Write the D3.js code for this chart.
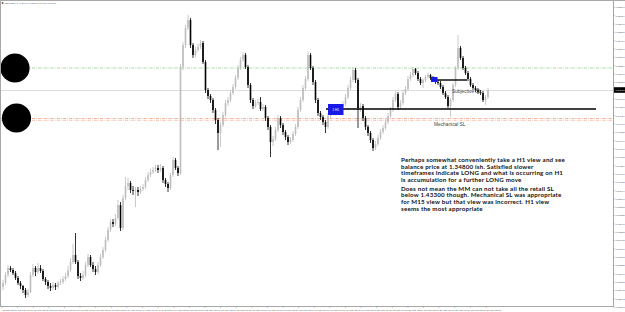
<!DOCTYPE html>
<html>
<head>
<meta charset="utf-8">
<script src="https://cdn.jsdelivr.net/npm/d3@7"></script>
<style>
body{margin:0;background:#fff}
svg{display:block}
</style>
</head>
<body>
<script>
var W = 625, H = 312;

var title = "GBPUSD,H1  1.34990 1.35010 1.34960 1.34980";
var firstOpen = 1.3301;
// H1 closes
var closes = [
1.3305,1.3313,1.3320,1.3318,1.3315,1.3310,1.3305,1.3302,1.3298,1.3293,1.3296,1.3313,1.3320,1.3316,1.3320,
1.3317,1.3309,1.3306,1.3302,1.3300,1.3303,1.3301,1.3305,1.3306,1.3309,1.3312,1.3318,1.3326,1.3333,1.3326,
1.3312,1.3310,1.3313,1.3323,1.3331,1.3323,1.3319,1.3316,1.3323,1.3331,1.3338,1.3348,1.3358,1.3366,1.3364,
1.3370,1.3383,1.3360,1.3390,1.3402,1.3405,1.3398,1.3397,1.3398,1.3396,1.3399,1.3401,1.3408,1.3413,1.3416,
1.3418,1.3420,1.3418,1.3420,1.3408,1.3404,1.3400,1.3413,1.3428,1.3420,1.3415,1.3521,1.3543,1.3560,1.3568,
1.3543,1.3533,1.3538,1.3541,1.3545,1.3526,1.3498,1.3492,1.3488,1.3478,1.3468,1.3455,1.3463,1.3473,1.3485,
1.3488,1.3495,1.3501,1.3510,1.3520,1.3528,1.3533,1.3521,1.3503,1.3488,1.3482,1.3485,1.3486,1.3479,1.3481,
1.3470,1.3461,1.3446,1.3449,1.3458,1.3470,1.3463,1.3456,1.3451,1.3446,1.3448,1.3454,1.3461,1.3478,1.3488,
1.3500,1.3509,1.3533,1.3520,1.3506,1.3488,1.3475,1.3471,1.3466,1.3461,1.3472,1.3476,1.3478,1.3479,1.3480,
1.3481,1.3484,1.3491,1.3500,1.3508,1.3518,1.3508,1.3480,1.3482,1.3470,1.3461,1.3455,1.3448,1.3440,1.3444,
1.3450,1.3456,1.3460,1.3466,1.3472,1.3478,1.3488,1.3494,1.3481,1.3485,1.3495,1.3499,1.3509,1.3513,1.3519,
1.3515,1.3509,1.3505,1.3508,1.3511,1.3513,1.3510,1.3508,1.3506,1.3505,1.3501,1.3495,1.3491,1.3482,1.3488,
1.3503,1.3520,1.3540,1.3530,1.3520,1.3515,1.3509,1.3503,1.3500,1.3498,1.3496,1.3495,1.3488,1.3491,1.3498];
var highs = [
1.3308,1.3316,1.3323,1.3322,1.3320,1.3317,1.3312,1.3307,1.3303,1.3300,1.3299,1.3316,1.3324,1.3322,1.3325,
1.3323,1.3319,1.3311,1.3308,1.3305,1.3306,1.3305,1.3307,1.3309,1.3312,1.3315,1.3322,1.3330,1.3344,1.3355,
1.3328,1.3315,1.3317,1.3326,1.3334,1.3333,1.3326,1.3322,1.3326,1.3334,1.3341,1.3351,1.3361,1.3369,1.3369,
1.3374,1.3388,1.3386,1.3393,1.3411,1.3410,1.3407,1.3402,1.3401,1.3401,1.3402,1.3404,1.3411,1.3416,1.3419,
1.3421,1.3423,1.3423,1.3424,1.3422,1.3410,1.3406,1.3415,1.3431,1.3430,1.3422,1.3524,1.3546,1.3563,1.3573,
1.3570,1.3545,1.3541,1.3544,1.3548,1.3547,1.3528,1.3500,1.3494,1.3490,1.3480,1.3470,1.3466,1.3476,1.3488,
1.3491,1.3498,1.3504,1.3513,1.3523,1.3531,1.3536,1.3535,1.3523,1.3505,1.3490,1.3488,1.3489,1.3491,1.3484,
1.3483,1.3472,1.3463,1.3452,1.3461,1.3473,1.3472,1.3465,1.3458,1.3453,1.3451,1.3457,1.3464,1.3481,1.3491,
1.3503,1.3512,1.3536,1.3535,1.3522,1.3508,1.3490,1.3477,1.3473,1.3468,1.3475,1.3478,1.3481,1.3482,1.3483,
1.3484,1.3487,1.3494,1.3503,1.3511,1.3521,1.3520,1.3510,1.3485,1.3484,1.3472,1.3463,1.3457,1.3450,1.3447,
1.3453,1.3459,1.3463,1.3469,1.3475,1.3481,1.3491,1.3497,1.3496,1.3488,1.3498,1.3502,1.3512,1.3516,1.3521,
1.3520,1.3517,1.3511,1.3510,1.3513,1.3515,1.3514,1.3512,1.3510,1.3508,1.3507,1.3503,1.3497,1.3493,1.3490,
1.3505,1.3522,1.3553,1.3542,1.3532,1.3522,1.3517,1.3511,1.3505,1.3502,1.3500,1.3498,1.3497,1.3493,1.3500];
var lows = [
1.3298,1.3303,1.3311,1.3316,1.3313,1.3308,1.3303,1.3299,1.3295,1.3290,1.3291,1.3295,1.3311,1.3312,1.3314,
1.3315,1.3307,1.3303,1.3299,1.3297,1.3298,1.3298,1.3299,1.3303,1.3304,1.3307,1.3310,1.3316,1.3324,1.3324,
1.3309,1.3307,1.3308,1.3311,1.3321,1.3321,1.3316,1.3313,1.3314,1.3321,1.3329,1.3336,1.3346,1.3356,1.3361,
1.3362,1.3368,1.3357,1.3358,1.3388,1.3398,1.3395,1.3393,1.3381,1.3392,1.3394,1.3397,1.3399,1.3406,1.3411,
1.3414,1.3416,1.3415,1.3416,1.3405,1.3401,1.3396,1.3398,1.3411,1.3418,1.3412,1.3413,1.3518,1.3540,1.3558,
1.3540,1.3530,1.3531,1.3536,1.3539,1.3524,1.3495,1.3489,1.3485,1.3475,1.3464,1.3438,1.3441,1.3461,1.3471,
1.3482,1.3486,1.3493,1.3499,1.3508,1.3518,1.3526,1.3519,1.3500,1.3485,1.3479,1.3480,1.3483,1.3477,1.3477,
1.3467,1.3458,1.3431,1.3442,1.3447,1.3456,1.3460,1.3453,1.3448,1.3443,1.3444,1.3446,1.3452,1.3459,1.3476,
1.3486,1.3498,1.3507,1.3518,1.3503,1.3485,1.3472,1.3468,1.3463,1.3455,1.3459,1.3470,1.3474,1.3476,1.3477,
1.3478,1.3479,1.3482,1.3489,1.3498,1.3506,1.3505,1.3460,1.3476,1.3467,1.3458,1.3452,1.3445,1.3437,1.3438,
1.3442,1.3448,1.3454,1.3458,1.3464,1.3470,1.3476,1.3486,1.3478,1.3479,1.3483,1.3493,1.3497,1.3507,1.3511,
1.3513,1.3507,1.3503,1.3500,1.3506,1.3509,1.3508,1.3506,1.3504,1.3503,1.3499,1.3493,1.3489,1.3480,1.3471,
1.3486,1.3501,1.3518,1.3528,1.3518,1.3513,1.3507,1.3501,1.3498,1.3496,1.3494,1.3493,1.3486,1.3483,1.3489];

var priceTicks = [1.35807,1.35724,1.35640,1.35557,1.35474,1.35391,1.35307,1.35224,1.35141,1.35057,
  1.34891,1.34807,1.34724,1.34641,1.34558,1.34474,1.34391,1.34308,1.34224,1.34141,1.34058,
  1.33974,1.33891,1.33808,1.33725,1.33641,1.33558,1.33475,1.33391,1.33308,1.33225,1.33141,
  1.33058,1.32975,1.32892,1.32808];
var dateLabels = ["12 Mar 2018","12 Mar 06:00","12 Mar 12:00","12 Mar 18:00",
  "13 Mar 00:00","13 Mar 06:00","13 Mar 12:00","13 Mar 18:00",
  "14 Mar 00:00","14 Mar 06:00","14 Mar 12:00","14 Mar 18:00",
  "15 Mar 00:00","15 Mar 06:00","15 Mar 12:00","15 Mar 18:00",
  "16 Mar 00:00","16 Mar 06:00","16 Mar 12:00","16 Mar 18:00",
  "19 Mar 00:00","19 Mar 06:00","19 Mar 12:00","19 Mar 18:00",
  "20 Mar 00:00","20 Mar 06:00","20 Mar 12:00","20 Mar 18:00",
  "21 Mar 00:00","21 Mar 06:00","21 Mar 12:00","21 Mar 18:00"];

// chart objects (bar index / price)
var greenLevel = 1.3520;
var orangeLevels = [1.34695, 1.34677];
var balanceLine = {price: 1.3479, from: 129.2, to: 237.2};
var blueBox = {from: 130, to: 136.2, top: 1.3484, bottom: 1.3473};
var subjLine = {price: 1.3508, from: 172, to: 185.6};
var smallBox = {from: 171.2, to: 173.8, top: 1.3511, bottom: 1.3506};
var circleMarks = [{i: 4.8, price: 1.3520}, {i: 5.4, price: 1.3470}];
var labels = [{text: "Subjective SL", i: 179.6, price: 1.34955},
              {text: "Mechanical SL", i: 172.4, price: 1.3462}];
var note1 = ["Perhaps somewhat conveniently take a H1 view and see",
  "balance price at 1.34800 ish. Satisfied slower",
  "timeframes indicate LONG and what is occurring on H1",
  "is accumulation for a further LONG move"];
var note2 = ["Does not mean the MM can not take all the retail SL",
  "below 1.43300 though. Mechanical SL was appropriate",
  "for M15 view but that view was incorrect. H1 view",
  "seems the most appropriate"];

var n = closes.length;
var candles = closes.map(function(c, i){
  return {i: i, o: i == 0 ? firstOpen : closes[i-1], c: c, h: highs[i], l: lows[i]};
});
var bid = closes[n-1];

var plotR = 613, plotB = 306;
var x = d3.scaleLinear().domain([0, n-1]).range([3, 488]);
var y = d3.scaleLinear().domain([1.3282, 1.3588]).range([plotB, 0]);

var svg = d3.select("body").append("svg")
  .attr("width", W).attr("height", H);
svg.append("rect").attr("width", W).attr("height", H).attr("fill", "#fff");

// bid line
svg.append("line")
  .attr("x1", 1).attr("x2", plotR)
  .attr("y1", Math.round(y(bid)) + 0.5).attr("y2", Math.round(y(bid)) + 0.5)
  .attr("stroke", "#dcdcdc").attr("stroke-width", 1);

// horizontal levels
svg.append("line")
  .attr("x1", 1).attr("x2", plotR)
  .attr("y1", y(greenLevel)).attr("y2", y(greenLevel))
  .attr("stroke", "#9fd59f").attr("stroke-width", 0.9)
  .attr("stroke-dasharray", "3,1.2,0.8,1.2");
svg.selectAll(".orange").data(orangeLevels).enter().append("line")
  .attr("class", "orange")
  .attr("x1", 1).attr("x2", plotR)
  .attr("y1", function(d){ return y(d); }).attr("y2", function(d){ return y(d); })
  .attr("stroke", function(d, k){ return k == 0 ? "#f4a98e" : "#f7b7a6"; })
  .attr("stroke-width", 0.9)
  .attr("stroke-dasharray", "3,1.2,0.8,1.2");

// candles
var cg = svg.append("g");
var colr = function(d){ return d.c >= d.o ? "#bdbdbd" : "#000"; };
cg.selectAll(".wick").data(candles).enter().append("line")
  .attr("class", "wick")
  .attr("x1", function(d){ return x(d.i); }).attr("x2", function(d){ return x(d.i); })
  .attr("y1", function(d){ return y(d.h); }).attr("y2", function(d){ return y(d.l); })
  .attr("stroke", colr).attr("stroke-width", 0.8);
cg.selectAll(".body").data(candles).enter().append("rect")
  .attr("class", "body")
  .attr("x", function(d){ return x(d.i) - 0.8; })
  .attr("width", 1.6)
  .attr("y", function(d){ return y(Math.max(d.o, d.c)); })
  .attr("height", function(d){ return Math.max(0.8, Math.abs(y(d.o) - y(d.c))); })
  .attr("fill", colr);

// balance line and boxes
svg.append("line")
  .attr("x1", x(balanceLine.from)).attr("x2", x(balanceLine.to))
  .attr("y1", y(balanceLine.price)).attr("y2", y(balanceLine.price))
  .attr("stroke", "#000").attr("stroke-width", 1.6);
svg.append("rect")
  .attr("x", x(blueBox.from)).attr("y", y(blueBox.top))
  .attr("width", x(blueBox.to) - x(blueBox.from))
  .attr("height", y(blueBox.bottom) - y(blueBox.top))
  .attr("fill", "#1a1ae6");
svg.append("text")
  .attr("x", (x(blueBox.from) + x(blueBox.to)) / 2)
  .attr("y", y(blueBox.bottom) - 3.6)
  .attr("text-anchor", "middle")
  .attr("font-family", "Liberation Sans").attr("font-size", 3.2)
  .attr("fill", "#fff").text("1 H1");
svg.append("line")
  .attr("x1", x(subjLine.from)).attr("x2", x(subjLine.to))
  .attr("y1", y(subjLine.price)).attr("y2", y(subjLine.price))
  .attr("stroke", "#111").attr("stroke-width", 1.3);
svg.append("rect")
  .attr("x", x(smallBox.from)).attr("y", y(smallBox.top))
  .attr("width", x(smallBox.to) - x(smallBox.from))
  .attr("height", y(smallBox.bottom) - y(smallBox.top))
  .attr("fill", "#1a1ae6");

svg.selectAll(".lbl").data(labels).enter().append("text")
  .attr("class", "lbl")
  .attr("x", function(d){ return x(d.i); })
  .attr("y", function(d){ return y(d.price); })
  .attr("font-family", "Liberation Sans").attr("font-size", 4.8)
  .attr("fill", "#444").text(function(d){ return d.text; });

// circles
svg.selectAll(".dot").data(circleMarks).enter().append("circle")
  .attr("class", "dot")
  .attr("cx", function(d){ return x(d.i); })
  .attr("cy", function(d){ return y(d.price); })
  .attr("r", 14.6).attr("fill", "#000");

// note text
var tg = svg.append("g")
  .attr("font-family", "Lato").attr("font-weight", 700)
  .attr("font-size", 6.2).attr("letter-spacing", 0.2).attr("fill", "#111");
note1.forEach(function(t, k){
  tg.append("text").attr("x", 401).attr("y", 162 + k * 6.7).text(t);
});
note2.forEach(function(t, k){
  tg.append("text").attr("x", 401).attr("y", 190.7 + k * 6.7).text(t);
});

// frame
svg.append("line").attr("x1", 0).attr("x2", W).attr("y1", 0.5).attr("y2", 0.5)
  .attr("stroke", "#a8a8a8");
svg.append("line").attr("x1", 0.5).attr("x2", 0.5).attr("y1", 0).attr("y2", plotB)
  .attr("stroke", "#a8a8a8");
svg.append("line").attr("x1", 0).attr("x2", plotR + 0.5).attr("y1", plotB + 0.5).attr("y2", plotB + 0.5)
  .attr("stroke", "#a8a8a8");
svg.append("line").attr("x1", plotR + 0.5).attr("x2", plotR + 0.5).attr("y1", 0).attr("y2", plotB + 0.5)
  .attr("stroke", "#a8a8a8");

// price axis
var ag = svg.append("g").attr("font-family", "Liberation Sans").attr("font-size", 2.5);
priceTicks.forEach(function(p){
  ag.append("line").attr("x1", plotR).attr("x2", plotR + 2)
    .attr("y1", y(p)).attr("y2", y(p)).attr("stroke", "#999").attr("stroke-width", 0.5);
  ag.append("text").attr("x", plotR + 2.5).attr("y", y(p) + 0.9)
    .attr("fill", "#555").text(p.toFixed(5));
});
ag.append("rect").attr("x", plotR + 1).attr("y", y(bid) - 2.8)
  .attr("width", W - plotR - 1).attr("height", 5.6).attr("fill", "#000");
ag.append("text").attr("x", plotR + 2.5).attr("y", y(bid) + 0.9)
  .attr("fill", "#fff").text(bid.toFixed(5));

// time axis
var tx = d3.scalePoint().domain(dateLabels).range([2, 486]);
var dg = svg.append("g").attr("font-family", "Liberation Sans").attr("font-size", 2.5);
dateLabels.forEach(function(t){
  dg.append("line").attr("x1", tx(t)).attr("x2", tx(t))
    .attr("y1", plotB).attr("y2", plotB + 2).attr("stroke", "#999").attr("stroke-width", 0.5);
  dg.append("text").attr("x", tx(t) + 0.5).attr("y", plotB + 4.6)
    .attr("fill", "#555").text(t);
});

// title
svg.append("rect").attr("x", 1.8).attr("y", 2.2).attr("width", 1.5).attr("height", 1.5).attr("fill", "#333");
svg.append("text").attr("x", 4.5).attr("y", 4.2)
  .attr("font-family", "Liberation Sans").attr("font-size", 2.4)
  .attr("fill", "#555").attr("xml:space", "preserve").text(title);
</script>
</body>
</html>
